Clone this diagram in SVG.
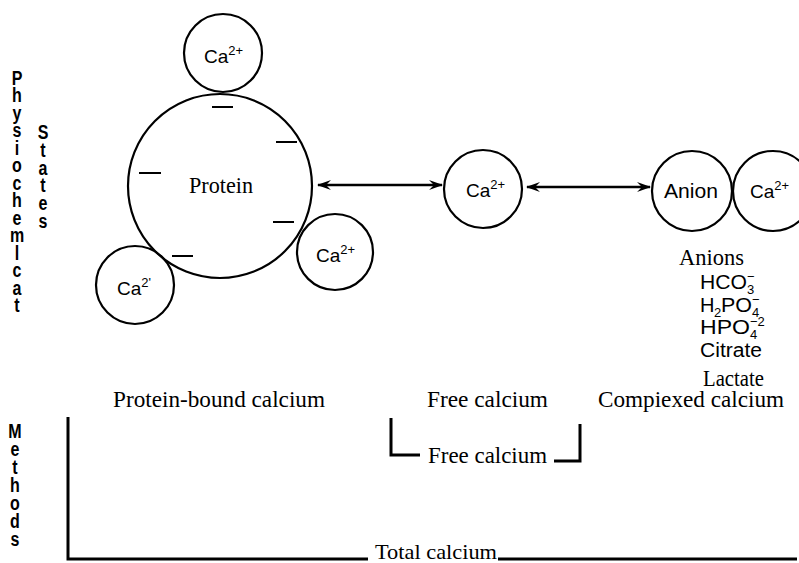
<svg xmlns="http://www.w3.org/2000/svg" width="799" height="563" viewBox="0 0 799 563">
<style>
.c{fill:none;stroke:#000;stroke-width:2.2}
.d{stroke:#000;stroke-width:2}
.sans{font-family:"Liberation Sans",Arial,sans-serif;fill:#000}
.serif{font-family:"Liberation Serif","Times New Roman",serif;fill:#000}
.ca{font-size:19px}
.sup{font-size:13px}
.lab{font-size:24px}
.side{font-family:"Liberation Sans",Arial,sans-serif;font-weight:bold;font-size:20px;text-anchor:middle;fill:#000}
.ln{stroke:#000;stroke-width:3;fill:none}
.arr{stroke:#000;stroke-width:2.6;fill:none}
</style>
<defs>
<marker id="ah" viewBox="0 0 14 10" refX="13" refY="5" markerWidth="14" markerHeight="10" markerUnits="userSpaceOnUse" orient="auto-start-reverse">
<path d="M0,0 L14,5 L0,10 L5,5 Z" fill="#000"/>
</marker>
</defs>
<rect width="799" height="563" fill="#fff"/>

<g id="side-labels">
<g transform="translate(17,0) scale(0.8,1)">
<text class="side" x="0" y="85"><tspan x="0" y="85">P</tspan><tspan x="0" y="102.5">h</tspan><tspan x="0" y="120">y</tspan><tspan x="0" y="137.5">s</tspan><tspan x="0" y="155">i</tspan><tspan x="0" y="172.5">o</tspan><tspan x="0" y="190">c</tspan><tspan x="0" y="207.5">h</tspan><tspan x="0" y="225">e</tspan><tspan x="0" y="242.5">m</tspan><tspan x="0" y="260">l</tspan><tspan x="0" y="277.5">c</tspan><tspan x="0" y="295">a</tspan><tspan x="0" y="312">t</tspan></text>
</g>
<g transform="translate(43,0) scale(0.8,1)">
<text class="side" x="0" y="139"><tspan x="0" y="139">S</tspan><tspan x="0" y="156.8">t</tspan><tspan x="0" y="174.6">a</tspan><tspan x="0" y="192.4">t</tspan><tspan x="0" y="210.2">e</tspan><tspan x="0" y="228">s</tspan></text>
</g>
<g transform="translate(15,0) scale(0.8,1)">
<text class="side" x="0" y="438"><tspan x="0" y="438">M</tspan><tspan x="0" y="456">e</tspan><tspan x="0" y="474">t</tspan><tspan x="0" y="492">h</tspan><tspan x="0" y="510">o</tspan><tspan x="0" y="528">d</tspan><tspan x="0" y="546">s</tspan></text>
</g>
</g>

<g id="protein">
<circle class="c" cx="220" cy="186" r="92"/>
<line class="d" x1="212" y1="107" x2="233" y2="107"/>
<line class="d" x1="276" y1="142" x2="297" y2="142"/>
<line class="d" x1="139" y1="173" x2="161" y2="173"/>
<line class="d" x1="273" y1="222" x2="294" y2="222"/>
<line class="d" x1="172" y1="256" x2="193" y2="256"/>
<text class="serif" x="189" y="193" font-size="24" textLength="64" lengthAdjust="spacingAndGlyphs">Protein</text>
</g>

<g id="ca-top">
<circle class="c" cx="223" cy="53" r="39"/>
<text class="sans ca" x="204" y="63">Ca<tspan class="sup" dy="-8">2+</tspan></text>
</g>

<g id="ca-left">
<circle class="c" cx="135" cy="285" r="39"/>
<text class="sans ca" x="117" y="295">Ca<tspan class="sup" dy="-8">2'</tspan></text>
</g>

<g id="ca-right">
<circle class="c" cx="335" cy="252" r="38"/>
<text class="sans ca" x="316" y="262">Ca<tspan class="sup" dy="-8">2+</tspan></text>
</g>

<g id="ca-free">
<circle class="c" cx="483" cy="189" r="39"/>
<text class="sans ca" x="466" y="197">Ca<tspan class="sup" dy="-8">2+</tspan></text>
</g>

<g id="anion">
<circle class="c" cx="692" cy="191" r="40"/>
<text class="sans" x="664" y="198" font-size="20" textLength="54" lengthAdjust="spacingAndGlyphs">Anion</text>
</g>

<g id="ca-complex">
<circle class="c" cx="773" cy="191" r="40"/>
<text class="sans ca" x="750" y="198">Ca<tspan class="sup" dy="-8">2+</tspan></text>
</g>

<g id="connectors">
<line class="arr" x1="318" y1="185" x2="442" y2="185" marker-start="url(#ah)" marker-end="url(#ah)"/>
<line class="arr" x1="527" y1="187" x2="650" y2="187" marker-start="url(#ah)" marker-end="url(#ah)"/>
</g>

<g id="anion-list">
<text class="serif" x="679" y="265" font-size="24" textLength="65" lengthAdjust="spacingAndGlyphs">Anions</text>
<text class="sans" x="700" y="289" font-size="20"><tspan x="700" y="289" textLength="47" lengthAdjust="spacingAndGlyphs">HCO</tspan><tspan x="747" y="294" font-size="13">3</tspan><tspan x="747" y="281" font-size="13">−</tspan></text>
<text class="sans" x="700" y="312" font-size="20"><tspan x="700" y="312">H</tspan><tspan x="714" y="317" font-size="13">2</tspan><tspan x="721" y="312" textLength="31" lengthAdjust="spacingAndGlyphs">PO</tspan><tspan x="752" y="317" font-size="13">4</tspan><tspan x="752" y="304" font-size="13">−</tspan></text>
<text class="sans" x="700" y="334" font-size="20"><tspan x="700" y="334" textLength="50" lengthAdjust="spacingAndGlyphs">HPO</tspan><tspan x="750" y="339" font-size="13">4</tspan><tspan x="750" y="326" font-size="13">−2</tspan></text>
<text class="sans" x="700" y="357" font-size="20" textLength="62" lengthAdjust="spacingAndGlyphs">Citrate</text>
<text class="serif" x="703" y="386" font-size="23" textLength="61" lengthAdjust="spacingAndGlyphs">Lactate</text>
</g>

<g id="state-labels">
<text class="serif lab" x="113" y="407" textLength="212" lengthAdjust="spacingAndGlyphs">Protein-bound calcium</text>
<text class="serif lab" x="427" y="407" textLength="121" lengthAdjust="spacingAndGlyphs">Free calcium</text>
<text class="serif lab" x="598" y="407" textLength="186" lengthAdjust="spacingAndGlyphs">Compiexed calcium</text>
</g>

<g id="methods">
<polyline class="ln" points="391,418 391,455 420,455"/>
<text class="serif lab" x="428" y="463" textLength="119" lengthAdjust="spacingAndGlyphs">Free calcium</text>
<polyline class="ln" points="554,461 580,461 580,424"/>
<polyline class="ln" points="68,417 68,559 368,559"/>
<text class="serif" x="375" y="559" font-size="22" textLength="122" lengthAdjust="spacingAndGlyphs">Total calcium</text>
<line class="ln" x1="498" y1="559" x2="797" y2="559"/>
</g>
</svg>
